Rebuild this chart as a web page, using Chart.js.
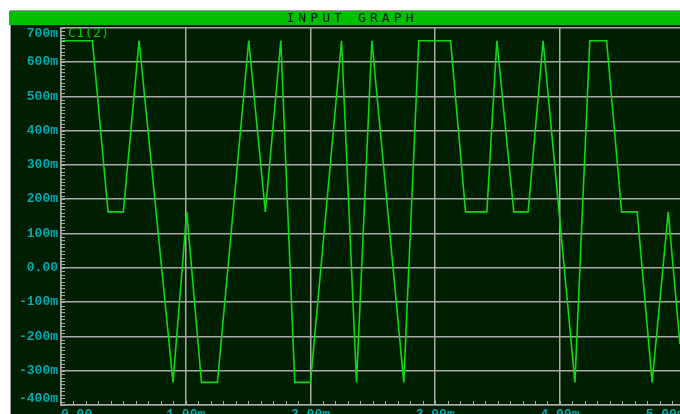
<!DOCTYPE html>
<html>
<head>
<meta charset="utf-8">
<script src="https://cdn.jsdelivr.net/npm/chart.js@4/dist/chart.umd.min.js"></script>
<style>
  html, body { margin: 0; padding: 0; background: #fff; width: 680px; height: 414px; overflow: hidden; }
  #panel { position: absolute; left: 10px; top: 10px; width: 700px; height: 420px; background: #001e00;
           border-left: 1px solid #9a9a9a; border-top: 1px solid #9a9a9a; }
  #title { position: absolute; left: -2px; top: 0; width: 686px; height: 14px; background: #00c000;
           color: #001800; font: 13px "DejaVu Sans Mono", monospace; letter-spacing: 4.1px;
           line-height: 14px; text-align: center; }
  #trace { position: absolute; left: 68px; top: 27px; color: #00c800; font: 13px "DejaVu Sans Mono", monospace;
           line-height: 12px; letter-spacing: 0.5px; }
  #graph { position: absolute; left: 10px; top: 25px; }
</style>
</head>
<body>
<div id="panel"><div id="title">INPUT GRAPH</div></div>
<canvas id="graph" width="690" height="392"></canvas>
<div id="trace"></div>
<script>
// trace C1(2), time in ms, value in mV
const traceName = 'C1(2)';
const timeMs = [0, 0.252, 0.377, 0.500, 0.626, 0.898, 1.008, 1.126, 1.254, 1.505,
                1.638, 1.762, 1.874, 2.000, 2.249, 2.369, 2.492, 2.748, 2.868, 3.123,
                3.243, 3.414, 3.494, 3.630, 3.745, 3.865, 4.120, 4.239, 4.374, 4.494,
                4.619, 4.739, 4.868, 4.962];
const valueMv = [662, 662, 163, 163, 662, -334, 163, -334, -334, 662,
                 163, 662, -334, -334, 662, -334, 662, -334, 662, 662,
                 163, 163, 662, 163, 163, 662, -334, 662, 662, 163,
                 163, -334, 163, -223];

const xTickLabels = ['0.00', '1.00m', '2.00m', '3.00m', '4.00m', '5.00m'];
const yTickLabels = ['-400m', '-300m', '-200m', '-100m', '0.00', '100m', '200m', '300m', '400m', '500m', '600m', '700m'];

const gridColor = '#a9a9a9';
const labelColor = '#00a8b0';
const labelFont = { family: '"Liberation Mono", monospace', size: 13, weight: 'bold' };

document.getElementById('trace').textContent = traceName;

// small tick marks along the left and bottom axes
const minorTicks = {
    id: 'minorTicks',
    beforeDraw(chart) {
        // keep the end labels of the y axis inside the plot, like the scope does
        const items = chart.scales.y.getLabelItems();
        items[0].options.textBaseline = 'bottom';
        items[items.length - 1].options.textBaseline = 'top';
    },
    afterDraw(chart) {
        const { ctx, chartArea, scales: { x, y } } = chart;
        ctx.save();
        ctx.strokeStyle = gridColor;
        ctx.lineWidth = 1;
        ctx.beginPath();
        for (let i = 0; i <= 110; i++) {
            const py = Math.round(y.getPixelForValue(-400 + i * 10)) + 0.5;
            ctx.moveTo(chartArea.left, py);
            ctx.lineTo(chartArea.left + 4, py);
        }
        for (let i = 0; i <= 50; i++) {
            const px = Math.round(x.getPixelForValue(i * 0.1)) + 0.5;
            ctx.moveTo(px, chartArea.bottom);
            ctx.lineTo(px, chartArea.bottom - 4);
        }
        ctx.stroke();
        ctx.restore();
    }
};

new Chart(document.getElementById('graph'), {
    type: 'line',
    data: {
        datasets: [{
            label: traceName,
            data: timeMs.map((t, i) => ({ x: t, y: valueMv[i] })),
            borderColor: '#10d810',
            borderWidth: 1.6,
            pointRadius: 0,
            tension: 0,
            fill: false
        }]
    },
    options: {
        responsive: false,
        animation: false,
        layout: { padding: { left: 0, right: 15.3, top: 2.7, bottom: 0 } },
        plugins: { legend: { display: false }, tooltip: { enabled: false } },
        scales: {
            x: {
                type: 'linear', min: 0, max: 5,
                afterFit: s => { s.height = 12; s.paddingLeft = 0; s.paddingRight = 0; },
                ticks: {
                    stepSize: 1, align: 'inner', autoSkip: false, maxRotation: 0, padding: 2,
                    color: labelColor, font: labelFont,
                    callback: (v, i) => xTickLabels[i]
                },
                grid: { color: gridColor, lineWidth: 1.5, drawTicks: false },
                border: { color: gridColor, width: 1.5 }
            },
            y: {
                min: -400, max: 700,
                afterFit: s => { s.width = 51; s.paddingTop = 0; s.paddingBottom = 0; },
                ticks: {
                    stepSize: 100, autoSkip: false, padding: 3,
                    color: labelColor, font: labelFont,
                    callback: (v, i) => yTickLabels[i]
                },
                grid: { color: gridColor, lineWidth: 1.5, drawTicks: false },
                border: { color: gridColor, width: 1.5 }
            }
        }
    },
    plugins: [minorTicks]
});
</script>
</body>
</html>
